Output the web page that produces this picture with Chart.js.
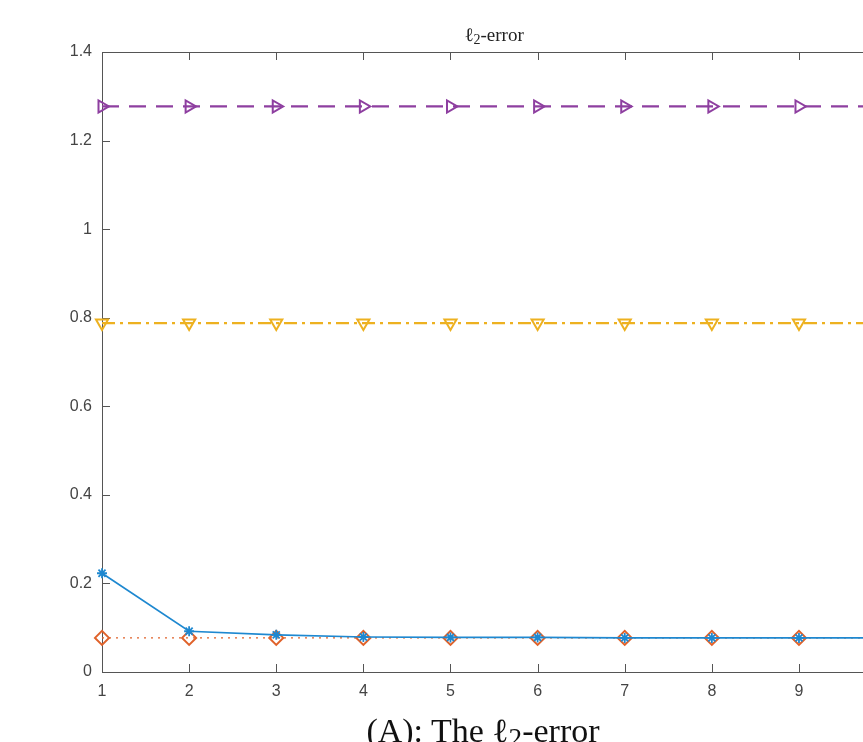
<!DOCTYPE html>
<html>
<head>
<meta charset="utf-8">
<title>l2-error</title>
<script src="https://cdn.jsdelivr.net/npm/chart.js@4/dist/chart.umd.min.js"></script>
<style>
  html, body { margin: 0; padding: 0; background: #fff; overflow: hidden; }
  #wrap { position: relative; width: 863px; height: 742px; overflow: hidden; }
  #chart { position: absolute; left: 0; top: 0; }
  #caption {
    position: absolute; left: 0; top: 714px; width: 966px;
    text-align: center; white-space: nowrap;
    font-family: "Liberation Serif", "DejaVu Serif", serif;
    font-size: 34px; line-height: 1; color: #111;
  }
  #caption sub { font-size: 80%; vertical-align: -0.2em; line-height: 0; }
</style>
</head>
<body>
<div id="wrap">
  <canvas id="chart" width="905" height="742" style="width:905px;height:742px"></canvas>
  <div id="caption">(A): The ℓ<sub>2</sub>-error</div>
</div>
<script>
/* ========= Daten ========= */
const iterations = [1, 2, 3, 4, 5, 6, 7, 8, 9, 10];
const errStar    = [0.223, 0.092, 0.084, 0.079, 0.078, 0.078, 0.077, 0.077, 0.077, 0.077];
const errDiamond = [0.077, 0.077, 0.077, 0.077, 0.077, 0.077, 0.077, 0.077, 0.077, 0.077];
const errDown    = [0.788, 0.788, 0.788, 0.788, 0.788, 0.788, 0.788, 0.788, 0.788, 0.788];
const errRight   = [1.277, 1.277, 1.277, 1.277, 1.277, 1.277, 1.277, 1.277, 1.277, 1.277];
const yTicks = [0, 0.2, 0.4, 0.6, 0.8, 1, 1.2, 1.4];
const xTicks = [1, 2, 3, 4, 5, 6, 7, 8, 9, 10];

const AXIS_COLOR = "#555";
const TICK_FONT = { family: "'Liberation Sans', Arial, sans-serif", size: 16 };

function toPoints(values) {
  return iterations.map((x, i) => ({ x, y: values[i] }));
}

/* ========= Rahmen + Ticks nach innen (MATLAB-Stil) ========= */
const boxPlugin = {
  id: "boxTicks",
  beforeDatasetsDraw(chart) {
    const { ctx, chartArea: a, scales } = chart;
    ctx.save();
    ctx.strokeStyle = AXIS_COLOR;
    ctx.lineWidth = 1;
    ctx.strokeRect(a.left + 0.5, a.top + 0.5, a.right - a.left, a.bottom - a.top);
    ctx.beginPath();
    xTicks.forEach(v => {
      const px = Math.round(scales.x.getPixelForValue(v)) + 0.5;
      ctx.moveTo(px, a.bottom); ctx.lineTo(px, a.bottom - 8);
      ctx.moveTo(px, a.top); ctx.lineTo(px, a.top + 8);
    });
    yTicks.forEach(v => {
      const py = Math.round(scales.y.getPixelForValue(v)) + 0.5;
      ctx.moveTo(a.left, py); ctx.lineTo(a.left + 8, py);
      ctx.moveTo(a.right, py); ctx.lineTo(a.right - 8, py);
    });
    ctx.stroke();
    ctx.restore();
  },
  afterDraw(chart) {
    // Titel: l2-error mit Index
    const { ctx, chartArea: a } = chart;
    ctx.save();
    ctx.fillStyle = "#222";
    ctx.textBaseline = "alphabetic";
    const big = "19px 'Liberation Serif', 'DejaVu Serif', serif";
    const small = "14px 'Liberation Serif', 'DejaVu Serif', serif";
    ctx.font = big;
    const w1 = ctx.measureText("ℓ").width;
    const w3 = ctx.measureText("-error").width;
    ctx.font = small;
    const w2 = ctx.measureText("2").width;
    let x = (a.left + a.right) / 2 - (w1 + w2 + w3) / 2;
    const base = 41;
    ctx.font = big;  ctx.fillText("ℓ", x, base); x += w1;
    ctx.font = small; ctx.fillText("2", x, base + 3); x += w2;
    ctx.font = big;  ctx.fillText("-error", x, base);
    ctx.restore();
  }
};

/* ========= Chart ========= */
const common = { fill: false, tension: 0, clip: false, pointBackgroundColor: "rgba(0,0,0,0)" };

new Chart(document.getElementById("chart").getContext("2d"), {
  type: "line",
  data: {
    datasets: [
      Object.assign({}, common, {
        label: "right", data: toPoints(errRight), order: 4,
        borderColor: "#8e3fa0", pointBorderColor: "#8e3fa0",
        borderWidth: 2.3, borderDash: [17, 10],
        pointStyle: "triangle", rotation: 90, pointRadius: 7, pointBorderWidth: 2
      }),
      Object.assign({}, common, {
        label: "down", data: toPoints(errDown), order: 3,
        borderColor: "#edb120", pointBorderColor: "#edb120",
        borderWidth: 2.3, borderDash: [13, 5, 3, 5],
        pointStyle: "triangle", rotation: 180, pointRadius: 7, pointBorderWidth: 2
      }),
      Object.assign({}, common, {
        label: "diamond", data: toPoints(errDiamond), order: 2,
        borderColor: "#e0622a", pointBorderColor: "#e0622a",
        borderWidth: 1.3, borderDash: [2, 5],
        pointStyle: "rectRot", pointRadius: 7, pointBorderWidth: 2
      }),
      Object.assign({}, common, {
        label: "star", data: toPoints(errStar), order: 1,
        borderColor: "#1e88d0", pointBorderColor: "#1e88d0",
        borderWidth: 1.7,
        pointStyle: "star", pointRadius: 5, pointBorderWidth: 1.8
      })
    ]
  },
  options: {
    responsive: false,
    animation: false,
    layout: { padding: { top: 52, left: 0, right: 15, bottom: 30 } },
    plugins: { legend: { display: false }, tooltip: { enabled: false }, title: { display: false } },
    scales: {
      x: {
        type: "linear", min: 1, max: 10,
        afterFit: s => { s.height = 40; },
        afterBuildTicks: s => { s.ticks = xTicks.map(v => ({ value: v })); },
        grid: { display: false, drawTicks: false },
        border: { display: false },
        ticks: { padding: 10, color: "#444", font: TICK_FONT, maxRotation: 0 }
      },
      y: {
        min: 0, max: 1.4,
        afterFit: s => { s.width = 102; },
        afterBuildTicks: s => { s.ticks = yTicks.map(v => ({ value: v })); },
        grid: { display: false, drawTicks: false },
        border: { display: false },
        ticks: { padding: 10, color: "#444", font: TICK_FONT, callback: v => String(v) }
      }
    }
  },
  plugins: [boxPlugin]
});
</script>
</body>
</html>
